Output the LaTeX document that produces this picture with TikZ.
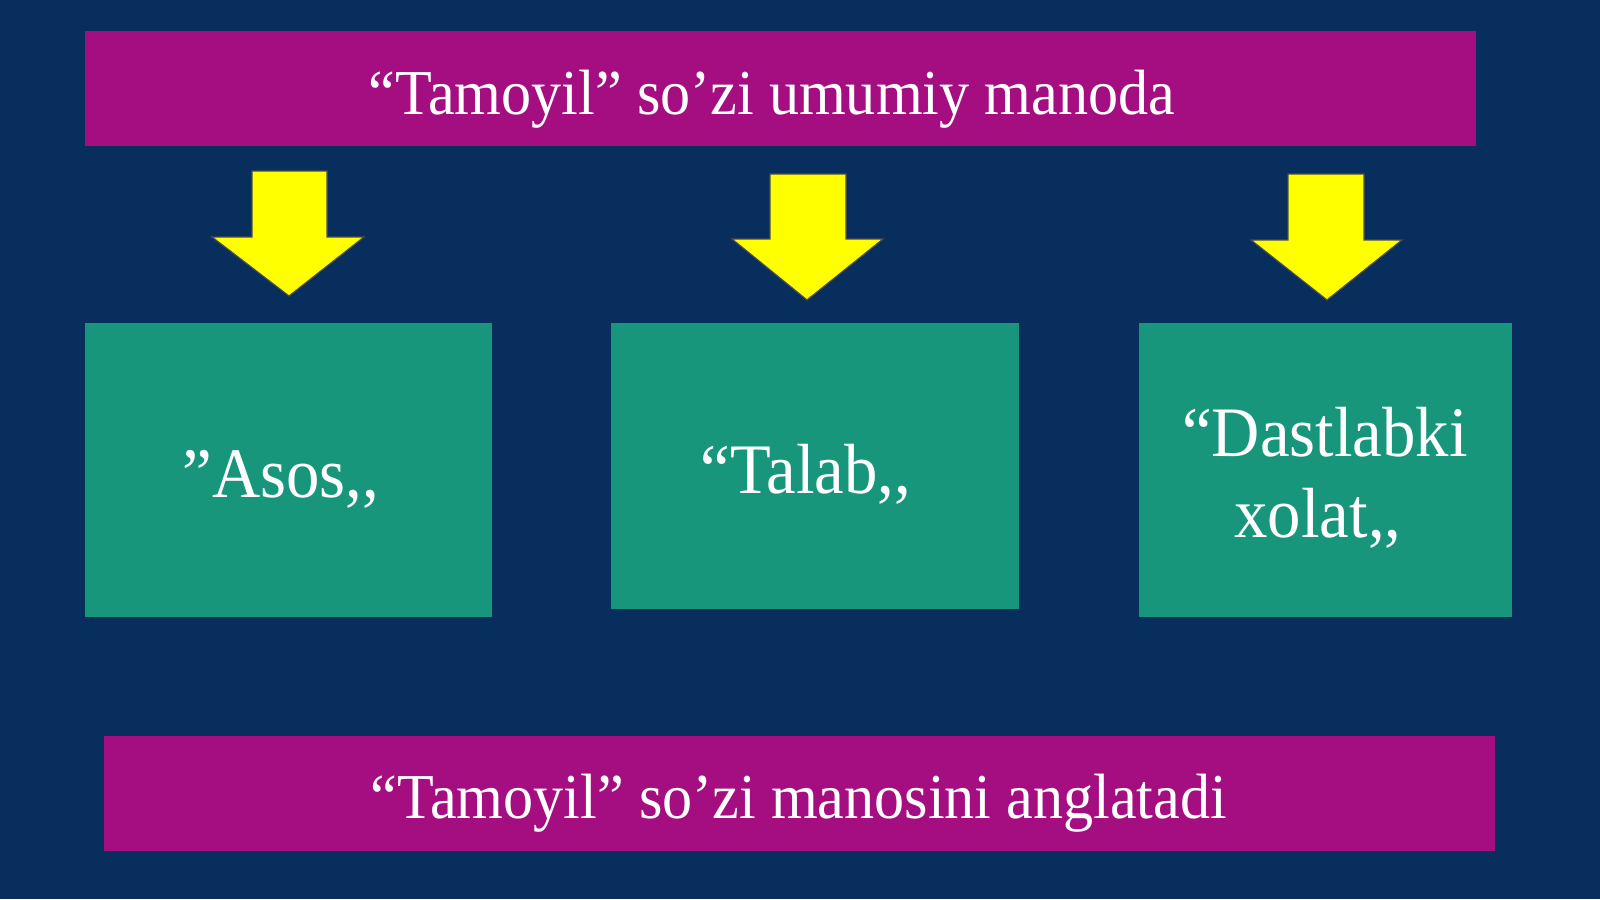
\documentclass[tikz,border=0pt]{standalone}
\usepackage{fontspec}
\setmainfont{Liberation Serif}
\definecolor{bgnavy}{RGB}{8,46,94}
\definecolor{barmag}{RGB}{164,14,128}
\definecolor{boxteal}{RGB}{23,150,124}
\definecolor{arrowyel}{RGB}{255,255,0}
\newcommand{\narrow}[1]{\scalebox{0.94}[1]{#1}}
\begin{document}
\begin{tikzpicture}[x=0.5pt,y=-0.5pt,
  bar/.style={fill=barmag,draw=none,inner sep=0pt},
  tbox/.style={fill=boxteal,draw=none,inner sep=0pt},
  bartext/.style={text=white,font=\fontsize{32}{38}\selectfont,anchor=base,inner sep=0pt},
  boxtext/.style={text=white,font=\fontsize{35.5}{40}\selectfont,anchor=base,inner sep=0pt},
  yarrow/.style={fill=arrowyel,draw=black!70,line width=0.6pt,line join=miter}]
\fill[bgnavy] (0,0) rectangle (1600,899);
\useasboundingbox (0,0) rectangle (1600,899);
% bars
\node[bar,minimum width=695.5pt,minimum height=57.5pt] (top) at (780.5,88.5) {};
\node[bartext] (toptext) at (772,114) {\narrow{“Tamoyil” so’zi umumiy manoda}};
\node[bar,minimum width=695.5pt,minimum height=57.5pt] (bot) at (799.5,793.5) {};
\node[bartext] (bottext) at (799,818) {\narrow{“Tamoyil” so’zi manosini anglatadi}};
% boxes
\node[tbox,minimum width=203.5pt,minimum height=147pt] (b1) at (288.5,470) {};
\node[tbox,minimum width=204pt,minimum height=143pt] (b2) at (815,466) {};
\node[tbox,minimum width=186.5pt,minimum height=147pt] (b3) at (1325.5,470) {};
\node[boxtext] (t1) at (281,497) {\narrow{”Asos,{},}};
\node[boxtext] (t2) at (806,493) {\narrow{“Talab,{},}};
\node[boxtext] (t3a) at (1325,456) {\narrow{“Dastlabki}};
\node[boxtext] (t3b) at (1318,537) {\narrow{xolat,{},}};
% arrows
\draw[yarrow] (252,171) -- (327,171) -- (327,237) -- (364,237) -- (289,296) -- (212,237) -- (252,237) -- cycle;
\draw[yarrow] (770,174) -- (846,174) -- (846,239) -- (883,239) -- (807,300) -- (732,239) -- (770,239) -- cycle;
\draw[yarrow] (1288,174) -- (1364,174) -- (1364,240) -- (1402,240) -- (1327,300) -- (1251,240) -- (1288,240) -- cycle;
\end{tikzpicture}
\end{document}
